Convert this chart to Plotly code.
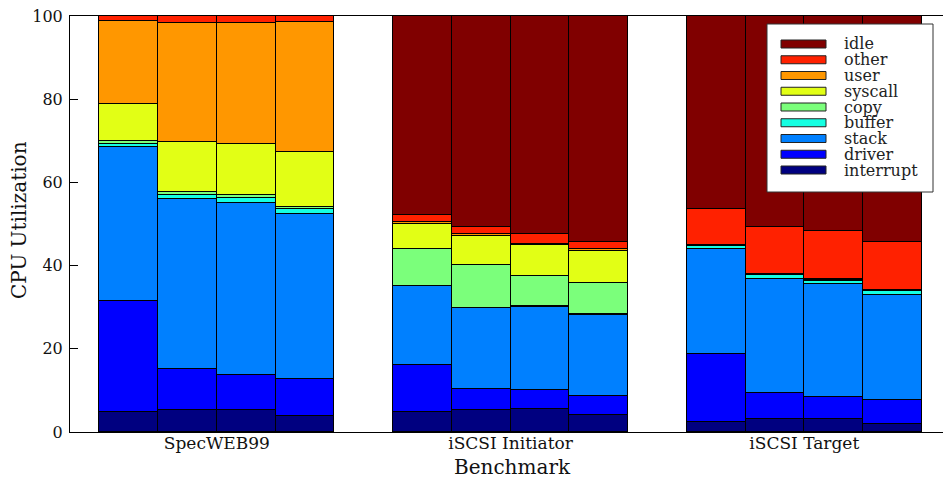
import plotly.graph_objects as go

# CPU time breakdown (percent) for four runs of each benchmark
benchmarks = ["SpecWEB99", "iSCSI Initiator", "iSCSI Target"]
runs_per_benchmark = 4

# components, listed bottom to top of each stack
components = ["interrupt", "driver", "stack", "buffer", "copy",
              "syscall", "user", "other", "idle"]

interrupt = [4.9, 5.2, 5.4, 3.9,   4.7, 5.4, 5.6, 4.0,   2.3, 3.1, 3.1, 2.0]
driver    = [26.7, 9.9, 8.2, 8.9,  11.3, 5.0, 4.4, 4.7,  16.5, 6.3, 5.2, 5.6]
stack     = [36.9, 41.0, 41.5, 39.7, 19.0, 19.3, 20.1, 19.5, 25.3, 27.5, 27.2, 25.4]
buffer    = [0.8, 0.9, 1.2, 1.1,   0.2, 0.2, 0.2, 0.2,   0.5, 0.8, 0.9, 0.9]
copy      = [0.6, 0.7, 0.6, 0.6,   8.9, 10.3, 7.1, 7.5,  0.2, 0.1, 0.1, 0.1]
syscall   = [8.9, 12.1, 12.4, 13.0, 6.0, 7.0, 7.6, 7.7,  0.1, 0.1, 0.1, 0.1]
user      = [20.1, 28.6, 29.1, 31.4, 0.3, 0.3, 0.3, 0.3, 0.1, 0.1, 0.1, 0.1]
other     = [1.1, 1.6, 1.6, 1.4,   1.8, 1.8, 2.4, 1.8,   8.5, 11.3, 11.7, 11.4]
idle      = [0.0, 0.0, 0.0, 0.0,   47.8, 50.7, 52.3, 54.3, 46.5, 50.7, 51.6, 54.4]

series = [interrupt, driver, stack, buffer, copy, syscall, user, other, idle]

# jet colormap sampled at nine evenly spaced points
colors = ["#000080", "#0000ff", "#0080ff", "#15ffe2", "#7bff7b",
          "#e2ff15", "#ff9700", "#ff2100", "#800000"]

FONT = "DejaVu Serif, Liberation Serif, serif"

# bar positions: groups of four unit-wide bars separated by one empty slot
x_pos = []
for g in range(len(benchmarks)):
    for r in range(runs_per_benchmark):
        x_pos.append(g * (runs_per_benchmark + 1) + r + 0.5)
group_centers = [g * (runs_per_benchmark + 1) + runs_per_benchmark / 2
                 for g in range(len(benchmarks))]

fig = go.Figure()
for name, vals, col in zip(components, series, colors):
    fig.add_trace(go.Bar(
        x=x_pos, y=vals, name=name, width=1,
        marker=dict(color=col, line=dict(color="black", width=1)),
        showlegend=False,
    ))

W, H = 943, 479
ML, MR, MT, MB = 70, 0, 16, 47
pw, ph = W - ML - MR, H - MT - MB


def px_x(px):
    return (px - ML) / pw


def px_y(py):
    return (H - MB - py) / ph


# hand-built legend box: idle at top, interrupt at bottom
shapes = [dict(type="rect", xref="paper", yref="paper",
               x0=px_x(767), x1=px_x(933), y0=px_y(192), y1=px_y(24),
               fillcolor="white", line=dict(color="#333333", width=1),
               layer="above")]
annotations = []
row0, step = 44.0, 15.75
for i, (name, col) in enumerate(zip(components[::-1], colors[::-1])):
    cy = row0 + i * step
    shapes.append(dict(type="rect", xref="paper", yref="paper",
                       x0=px_x(781), x1=px_x(826),
                       y0=px_y(cy + 4), y1=px_y(cy - 4),
                       fillcolor=col, line=dict(color="#222222", width=1),
                       layer="above"))
    annotations.append(dict(xref="paper", yref="paper", x=px_x(842),
                            y=px_y(cy), text=name, showarrow=False,
                            xanchor="left", yanchor="middle",
                            font=dict(family=FONT, size=16, color="#222222")))

annotations.append(dict(xref="paper", yref="paper", x=px_x(19), y=px_y(220),
                        text="CPU Utilization", textangle=-90, showarrow=False,
                        xanchor="center", yanchor="middle",
                        font=dict(family=FONT, size=20, color="#111111")))
annotations.append(dict(xref="paper", yref="paper", x=px_x(512), y=px_y(467),
                        text="Benchmark", showarrow=False,
                        xanchor="center", yanchor="middle",
                        font=dict(family=FONT, size=20, color="#111111")))

x_right = (pw / 58.74) - 0.5

fig.update_layout(
    width=W, height=H,
    margin=dict(l=ML, r=MR, t=MT, b=MB, pad=0),
    paper_bgcolor="white", plot_bgcolor="white",
    barmode="stack", bargap=0,
    font=dict(family=FONT, color="#111111"),
    xaxis=dict(range=[-0.5, x_right], tickvals=group_centers,
               ticktext=benchmarks, ticks="", showgrid=False, zeroline=False,
               showline=True, linecolor="black", linewidth=1, mirror=True,
               ticklabelstandoff=-4,
               tickfont=dict(family=FONT, size=17, color="#111111")),
    yaxis=dict(range=[0, 100], tickvals=[0, 20, 40, 60, 80, 100],
               ticks="inside", ticklen=8, tickwidth=1, tickcolor="black",
               showgrid=False, zeroline=False, showline=True,
               linecolor="black", linewidth=1, ticklabelstandoff=3,
               tickfont=dict(family=FONT, size=16, color="#111111")),
    yaxis2=dict(range=[0, 100], overlaying="y", side="right", anchor="x",
                tickvals=[0, 20, 40, 60, 80, 100], ticks="inside", ticklen=3,
                tickcolor="black", showticklabels=False, showgrid=False,
                zeroline=False, showline=False),
    shapes=shapes,
    annotations=annotations,
)

fig.write_html("out.html")
